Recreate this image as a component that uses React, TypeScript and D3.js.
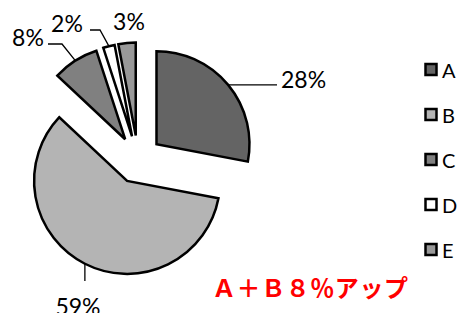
import React, { useRef, useEffect } from "react";
import * as d3 from "d3";

// slice data
const categories = ["A", "B", "C", "D", "E"];
const shares = [28, 59, 8, 2, 3];
const sliceLabels = ["28%", "59%", "8%", "2%", "3%"];
const colors = ["#646464", "#b4b4b4", "#808080", "#ffffff", "#999999"];
const note = "Ａ＋Ｂ８％アップ";

// layout for labels (text anchor + leader elbows)
const labelLayout = [
  { x: 281, y: 88, anchor: "start", elbows: [[277, null]] },
  { x: 78, y: 315, anchor: "middle", elbows: [[null, 281]] },
  { x: 28, y: 46, anchor: "middle", elbows: [[62, 44], [48, 44]] },
  { x: 67, y: 32, anchor: "middle", elbows: [[100, 30], [90, 30]] },
  { x: 129, y: 30, anchor: "middle", elbows: [] },
];

const W = 466, H = 313;
const cx = 138, cy = 159.5, R = 93, explode = 24;

export default function App() {
  const svgRef = useRef(null);

  useEffect(() => {
    const svg = d3.select(svgRef.current);
    svg.selectAll("*").remove();

    const pie = d3.pie<number>().sort(null).value(d => d);
    const arcs = pie(shares);
    const arc = d3.arc<any>().innerRadius(0).outerRadius(R);

    const g = svg.append("g").attr("transform", `translate(${cx},${cy})`);

    const offset = (a) => {
      const m = (a.startAngle + a.endAngle) / 2;
      return [Math.sin(m) * explode, -Math.cos(m) * explode];
    };

    g.selectAll("path.slice")
      .data(arcs)
      .join("path")
      .attr("class", "slice")
      .attr("d", arc)
      .attr("transform", d => `translate(${offset(d)[0]},${offset(d)[1]})`)
      .attr("fill", (d, i) => colors[i])
      .attr("stroke", "#000")
      .attr("stroke-width", 2.5)
      .attr("stroke-linejoin", "miter");

    // leader lines
    arcs.forEach((a, i) => {
      const lay = labelLayout[i];
      if (!lay.elbows.length) return;
      const m = (a.startAngle + a.endAngle) / 2;
      const [ox, oy] = offset(a);
      const sx = cx + ox + Math.sin(m) * R;
      const sy = cy + oy - Math.cos(m) * R;
      const pts = [[sx, sy]];
      lay.elbows.forEach(([ex, ey]) => {
        pts.push([ex == null ? sx : ex, ey == null ? sy : ey]);
      });
      svg.append("path")
        .attr("d", d3.line()(pts as any))
        .attr("fill", "none")
        .attr("stroke", "#000")
        .attr("stroke-width", 1.3);
    });

    svg.selectAll("text.lbl")
      .data(sliceLabels)
      .join("text")
      .attr("class", "lbl")
      .attr("x", (d, i) => labelLayout[i].x)
      .attr("y", (d, i) => labelLayout[i].y)
      .attr("text-anchor", (d, i) => labelLayout[i].anchor)
      .attr("font-family", "Lato, 'Open Sans', sans-serif")
      .attr("font-size", 23)
      .attr("fill", "#000")
      .text(d => d);

    // legend
    const ly = d3.scalePoint().domain(categories).range([70, 250]);
    const leg = svg.append("g");
    leg.selectAll("rect")
      .data(categories)
      .join("rect")
      .attr("x", 425.5)
      .attr("y", d => ly(d) - 6)
      .attr("width", 11)
      .attr("height", 11)
      .attr("fill", (d, i) => colors[i])
      .attr("stroke", "#000")
      .attr("stroke-width", 2.5);
    leg.selectAll("text")
      .data(categories)
      .join("text")
      .attr("x", 442)
      .attr("y", d => ly(d) + 7.5)
      .attr("font-family", "Lato, 'Open Sans', sans-serif")
      .attr("font-size", 20)
      .text(d => d);

    svg.append("text")
      .attr("x", 212)
      .attr("y", 297)
      .attr("font-family", "'Noto Sans CJK JP', sans-serif")
      .attr("font-weight", "bold")
      .attr("font-size", 24)
      .attr("fill", "#ff0000")
      .attr("textLength", 196)
      .text(note);
  }, []);

  return (
    <div style={{ position: "absolute", left: 0, top: 0 }}>
      <svg ref={svgRef} width={W} height={H} style={{ display: "block", background: "#fff" }} />
    </div>
  );
}
